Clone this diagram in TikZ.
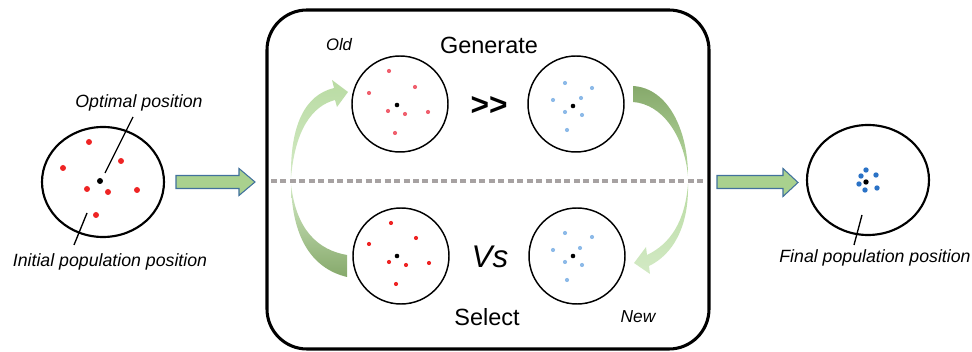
\documentclass[tikz,border=0pt]{standalone}
\usepackage{fontspec}
\setmainfont{Liberation Sans}
\usetikzlibrary{shapes.geometric}
\definecolor{redA}{HTML}{EE2424}
\definecolor{redB}{HTML}{F0606E}
\definecolor{blueA}{HTML}{8DBAE8}
\definecolor{blueB}{HTML}{2A72C6}
\definecolor{arrfill}{HTML}{A9D18E}
\definecolor{arrline}{HTML}{41719C}
\definecolor{lgA}{HTML}{D3EAC5}
\definecolor{lgB}{HTML}{B9DBA3}
\definecolor{dgA}{HTML}{86A96B}
\definecolor{dashgray}{HTML}{A7A2A2}
\begin{document}
\begin{tikzpicture}[x=0.75pt,y=-0.75pt,
  popell/.style={ellipse, draw, line width=1.6pt, minimum width=91.5pt, minimum height=82.5pt, inner sep=0pt},
  popcirc/.style={circle, draw, line width=1.1pt, minimum size=72pt, inner sep=0pt},
  lab/.style={font=\fontsize{13.3}{15}\selectfont\itshape, inner sep=0pt},
  big/.style={font=\fontsize{17.6}{20}\selectfont, inner sep=0pt},
  small/.style={font=\fontsize{12.5}{14}\selectfont\itshape, inner sep=0pt},
  leader/.style={line width=1pt},
  blockarrow/.style={fill=arrfill, draw=arrline, line width=0.8pt, line join=miter},
  dashline/.style={draw=dashgray, line width=3.6pt, dash pattern=on 4.5pt off 2.6pt}
]
\useasboundingbox (0,0) rectangle (972,352);

% ---------- left: initial population ----------
\node[popell] (init) at (103,182) {};
\foreach \p in {(89,142),(63,168),(121,161),(87,189),(108,192),(137,190),(96,215)}
  \fill[redA] \p circle (3);
\fill (100,181) circle (3);
\node[lab] (optl) at (139,103) {Optimal position};
\coordinate (opta) at (133,117);
\coordinate (optb) at (105,173);
\draw[leader] (opta) -- (optb);
\node[lab] (initl) at (110,262) {Initial population position};
\coordinate (inia) at (87,213);
\coordinate (inib) at (74,245);
\draw[leader] (inia) -- (inib);

% left block arrow
\draw[blockarrow] (176,175.5) -- (239,175.5) -- (239,168.5) -- (255,182) -- (239,195.5) -- (239,188.5) -- (176,188.5) -- cycle;

% ---------- central box ----------
\draw[line width=2.3pt, rounded corners=30pt] (267,10) rectangle (709,349);
\coordinate (dl) at (271,181);
\coordinate (dr) at (706,181);
\draw[dashline] (dl) -- (dr);

% circles
\node[popcirc] (old) at (400,104) {};
\node[popcirc] (gen) at (576,104) {};
\node[popcirc] (sel) at (401,256) {};
\node[popcirc] (new) at (577,256) {};

\foreach \p in {(389,71),(369,93),(415,87),(388,111),(405,114),(428,112),(395,133)}
  \fill[redB] \p circle (2.1);
\fill (397,105) circle (2.3);
\foreach \p in {(565,83),(592,88),(553,100),(581,98),(565,112),(582,115),(567,130)}
  \fill[blueA] \p circle (2.1);
\fill (573,106) circle (2.3);
\foreach \p in {(391,223),(369,244),(416,238),(389,262),(406,265),(429,263),(396,284)}
  \fill[redA] \p circle (2.1);
\fill (397,256) circle (2.3);
\foreach \p in {(565,233),(592,237),(553,250),(580,248),(565,262),(582,265),(567,280)}
  \fill[blueA] \p circle (2.1);
\fill (573,256) circle (2.3);

% texts
\node[small] (oldl) at (339,45) {Old};
\node[big] (genl) at (489,45) {Generate};
\node[font=\fontsize{23.7}{26}\selectfont\bfseries, inner sep=0pt] (gg) at (489,106) {>{}>};
\node[font=\fontsize{23.5}{26}\selectfont\itshape, inner sep=0pt] (vs) at (490,257) {Vs};
\node[big] (sell) at (487,317) {Select};
\node[small, font=\fontsize{13}{15}\selectfont\itshape] (newl) at (638,317) {New};

% curved arrows
\shade[top color=lgB, bottom color=lgA]
  (291,178) .. controls (290,125) and (305,95) .. (334,88) -- (332,80) -- (348,92) -- (337,107) -- (335,100)
  .. controls (312,106) and (295,130) .. (291,178) -- cycle;
\shade[top color=lgA, bottom color=dgA]
  (291,184) .. controls (292,235) and (310,268) .. (347,277) -- (347,255)
  .. controls (318,250) and (296,230) .. (291,184) -- cycle;
\shade[top color=dgA, bottom color=lgB]
  (633,86) .. controls (668,88) and (688,130) .. (688,176)
  .. controls (684,135) and (662,104) .. (633,102) -- cycle;
\shade[top color=lgB, bottom color=lgA]
  (688,184) .. controls (689,228) and (672,255) .. (649,266) -- (650,274) -- (634,263) -- (646,247) -- (647,255)
  .. controls (670,244) and (685,222) .. (688,184) -- cycle;

% right block arrow
\draw[blockarrow] (717,175.5) -- (783,175.5) -- (783,168.5) -- (798,182.5) -- (783,196.5) -- (783,188.5) -- (717,188.5) -- cycle;

% ---------- right: final population ----------
\node[popell] (final) at (868,180) {};
\foreach \p in {(866,170),(876,175),(861,176),(859,184),(877,188),(865,190)}
  \fill[blueB] \p circle (2.7);
\fill (866,182) circle (2.7);
\node[lab] (finl) at (875,258) {Final population position};
\coordinate (fina) at (862,215);
\coordinate (finb) at (854,245);
\draw[leader] (fina) -- (finb);
\end{tikzpicture}
\end{document}
